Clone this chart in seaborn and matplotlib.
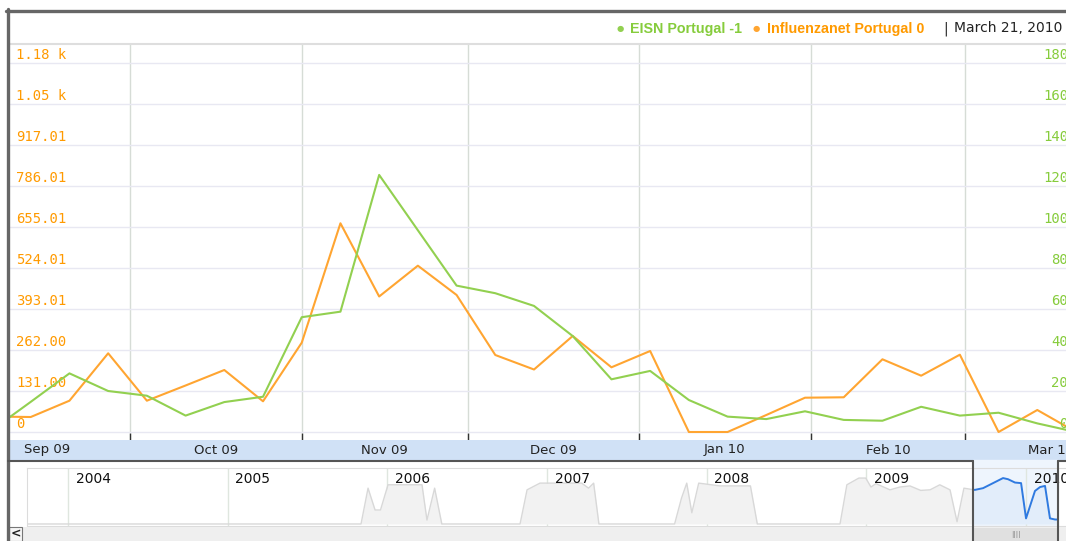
import pandas as pd
import numpy as np
import matplotlib
matplotlib.use('Agg')
import matplotlib.pyplot as plt
import matplotlib.dates as mdates
from matplotlib.patches import Rectangle
import seaborn as sns

# weekly values (Sep 2009 - Mar 2010)
weeks = pd.date_range('2009-09-06', '2010-03-21', freq='7D')
eisn = [1, 14.7, 28.6, 20, 17.7, 8, 14.6, 17.2, 56, 58.7, 125.4, 98.4, 71.4,
        67.7, 61.5, 46.8, 25.7, 29.8, 15.6, 7.5, 6.3, 10.1, 5.9, 5.5, 12.3,
        8, 9.4, 4.2, 0]
influenzanet = [49.5, 47.9, 100, 251.5, 100, 148.6, 198.1, 98.1, 285.3, 666.9,
                433, 531.4, 437.8, 246, 199.7, 306.8, 206.7, 258.8, 0, 0, 54.3,
                109.6, 110.9, 232.3, 179.9, 247, 0, 70.3, 0]

left_labels = ['0', '131.00', '262.00', '393.01', '524.01', '655.01', '786.01',
               '917.01', '1.05 k', '1.18 k']
right_labels = ['0', '20', '40', '60', '80', '100', '120', '140', '160', '180']
left_max = 1179.03
right_max = 180
legend_names = ['EISN Portugal -1', 'Influenzanet Portugal 0']
last_date = 'March 21, 2010'
view_start = pd.Timestamp('2009-09-09 06:00')

# overview strip: decimal years and relative height
nav_years = [2003.743, 2005.835, 2005.879, 2005.923, 2005.957, 2006.004, 2006.054,
             2006.217, 2006.248, 2006.296, 2006.341, 2006.831, 2006.875, 2006.956,
             2007.217, 2007.26, 2007.292, 2007.325, 2007.799, 2007.842, 2007.875,
             2007.907, 2007.95, 2008.083, 2008.274, 2008.317, 2008.835, 2008.878,
             2008.953, 2008.996, 2009.029, 2009.06, 2009.148, 2009.21, 2009.273,
             2009.34, 2009.399, 2009.46, 2009.524, 2009.568, 2009.611, 2009.674]
nav_level = [0, 0, 0.64, 0.25, 0.25, 0.70, 0.70, 0.70, 0.07, 0.64, 0, 0, 0.61, 0.73,
             0.73, 0.64, 0.73, 0, 0, 0.46, 0.73, 0.2, 0.73, 0.68, 0.68, 0, 0, 0.70,
             0.82, 0.82, 0.66, 0.72, 0.61, 0.66, 0.68, 0.6, 0.61, 0.7, 0.61, 0.04,
             0.64, 0.61]
sel_years = [2009.668, 2009.681, 2009.731, 2009.856, 2009.887, 2009.931, 2009.969,
             2010.0, 2010.056, 2010.088, 2010.119, 2010.15, 2010.182, 2010.2]
sel_level = [0.61, 0.61, 0.64, 0.82, 0.80, 0.74, 0.73, 0.10, 0.59, 0.66, 0.68,
             0.10, 0.08, 0.08]
window = (2009.668, 2010.2)
year_marks = list(range(2004, 2011))

green = '#92d050'
orange = '#ffa531'
green_txt = '#86cc3c'
orange_txt = '#ff9a00'

W, H = 1066, 541


def fx(px):
    return px / W


def fy(py):
    return 1 - py / H


sns.set_style('white')
plt.rcParams['font.family'] = ['DejaVu Sans']

fig = plt.figure(figsize=(W / 100, H / 100), dpi=100)

df = pd.DataFrame({'week': weeks, 'EISN': eisn, 'Influenzanet': influenzanet})

# main chart
ax = fig.add_axes([fx(10), fy(440), fx(1076) - fx(10), fy(44) - fy(440)])
ax2 = ax.twinx()
sns.lineplot(data=df, x='week', y='Influenzanet', ax=ax, color=orange, lw=1.5)
sns.lineplot(data=df, x='week', y='EISN', ax=ax2, color=green, lw=1.5)

# 2.05 px per EISN unit, zero line 8 px above the plot bottom
ax2.set_ylim(-8 / 2.05, 388 / 2.05)
r0, r1 = ax2.get_ylim()
scale = left_max / right_max
ax.set_ylim(r0 * scale, r1 * scale)

month_starts = pd.date_range('2009-09-01', '2010-04-01', freq='MS')
ax.set_xticks(month_starts[1:-1])
ax.set_yticks(np.arange(10) * left_max / 9)
ax.set_ylim(r0 * scale, r1 * scale)
ax.set_xlim(view_start, weeks[-1])
ax.grid(axis='x', color='#d6dcd6', lw=1)
ax.grid(axis='y', color='#e8e8f2', lw=1)
ax.set_axisbelow(True)
ax.tick_params(axis='x', direction='in', length=5, width=1, color='#333333',
               labelbottom=False, bottom=True)
ax.tick_params(axis='y', length=0, labelleft=False)
ax2.tick_params(axis='y', length=0, labelright=False, right=False)
for a in (ax, ax2):
    a.set_xlabel('')
    a.set_ylabel('')
    for s in a.spines.values():
        s.set_visible(False)

for i, lbl in enumerate(left_labels):
    ax.annotate(lbl, xy=(0, i * left_max / 9), xycoords=('axes fraction', 'data'),
                xytext=(4.3, 3.0), textcoords='offset points', ha='left',
                va='baseline', color=orange_txt, family='DejaVu Sans Mono',
                fontsize=10, annotation_clip=False)
for i, lbl in enumerate(right_labels):
    ax2.annotate(lbl, xy=(1, i * right_max / 9), xycoords=('axes fraction', 'data'),
                 xytext=(-5.8, 3.0), textcoords='offset points', ha='right',
                 va='baseline', color=green_txt, family='DejaVu Sans Mono',
                 fontsize=10, annotation_clip=False)

# month band
band = fig.add_axes([fx(10), fy(460), fx(1076) - fx(10), fy(440) - fy(460)],
                    facecolor='#d0e1f6')
band.set_xticks([])
band.set_yticks([])
band.set_xlim(mdates.date2num(view_start), mdates.date2num(weeks[-1]))
band.set_ylim(0, 1)
for s in band.spines.values():
    s.set_visible(False)
for m0, m1 in zip(month_starts[:-1], month_starts[1:]):
    mid = mdates.date2num(m0) + (mdates.date2num(m1) - mdates.date2num(m0)) / 2
    band.text(mid, 0.5, m0.strftime('%b %y'), ha='center', va='center',
              fontsize=9.5, color='#222222', clip_on=False)

# overview strip
nav = fig.add_axes([fx(27), fy(526), fx(1076) - fx(27), fy(468) - fy(526)])
nav.fill_between(nav_years, nav_level, color='#f2f2f2', lw=0)
sns.lineplot(x=nav_years, y=nav_level, ax=nav, color='#d8d8d8', lw=1)
nav.fill_between(sel_years, sel_level, color='#e2edfa', lw=0)
sns.lineplot(x=sel_years, y=sel_level, ax=nav, color='#2f7ae0', lw=1.4)
nav.axvspan(window[0], window[1], ymin=-0.03, ymax=1.13, color='#eef5fd',
            zorder=0, clip_on=False)
nav.set_xticks(year_marks)
nav.set_xticks([y + q for y in range(2003, 2011) for q in (0.25, 0.5, 0.75)],
               minor=True)
nav.set_xlim(2003.743, 2010.313)
nav.set_ylim(-0.036, 1.0)
nav.grid(axis='x', which='major', color='#dfe6df', lw=1)
nav.set_axisbelow(True)
nav.tick_params(axis='x', which='major', direction='in', length=6, width=1,
                color='#222222', labelbottom=False)
nav.tick_params(axis='x', which='minor', direction='in', length=4, width=1,
                color='#c8e0b8')
nav.tick_params(axis='y', left=False, labelleft=False)
nav.set_xlabel('')
nav.set_ylabel('')
nav.spines['right'].set_visible(False)
for side in ('top', 'left', 'bottom'):
    nav.spines[side].set_color('#dcdcdc')
for y in year_marks:
    nav.annotate(str(y), xy=(y, 1), xycoords=('data', 'axes fraction'),
                 xytext=(5.5, -3), textcoords='offset points', ha='left',
                 va='top', fontsize=10, color='#111111')

# frame, header and scroll bar
over = fig.add_axes([0, 0, 1, 1], zorder=20)
over.set_xlim(0, W)
over.set_ylim(H, 0)
over.axis('off')
win_px = [nav.transData.transform((w, 0))[0] for w in window]

over.add_patch(Rectangle((9, 527), W - 9, 14, color='#efefef', lw=0))
over.add_patch(Rectangle((win_px[0], 528), win_px[1] - win_px[0], 13,
                         fc='#e0e0e0', ec='none'))
over.text((win_px[0] + win_px[1]) / 2, 535, '||||', ha='center', va='center',
          fontsize=5, color='#888888')
over.add_patch(Rectangle((9, 527), 13, 14, fc='#f6f6f6', ec='#777777', lw=0.8))
over.text(15.5, 534, '<', ha='center', va='center', fontsize=9,
          fontweight='bold', color='#222222')

over.plot([9, W], [44, 44], color='#dedede', lw=1.5)
over.plot([6, W], [10.5, 10.5], color='#666666', lw=2.4)
over.plot([7.5, 7.5], [9, H], color='#666666', lw=2.4)
over.plot([7.5, win_px[0]], [461, 461], color='#555555', lw=1.5)
over.plot([win_px[1], W], [461, 461], color='#555555', lw=1.5)
over.plot([win_px[0], win_px[0]], [461, H], color='#555555', lw=1.5)
over.plot([win_px[1], win_px[1]], [461, H], color='#555555', lw=1.5)

over.text(620, 28.5, '\u25cf', color=green, fontsize=6, ha='center', va='center')
over.text(630, 28.5, legend_names[0], color=green_txt, fontsize=10.3,
          fontweight='bold', family='Liberation Sans', va='center')
over.text(756, 28.5, '\u25cf', color=orange, fontsize=6, ha='center', va='center')
over.text(767, 28.5, legend_names[1], color=orange_txt, fontsize=10.3,
          fontweight='bold', family='Liberation Sans', va='center')
over.text(946, 28.5, '|', color='#222222', fontsize=10, ha='center', va='center')
over.text(954, 28.5, last_date, color='#222222', fontsize=10, va='center')

fig.savefig('out.png', dpi=100)
